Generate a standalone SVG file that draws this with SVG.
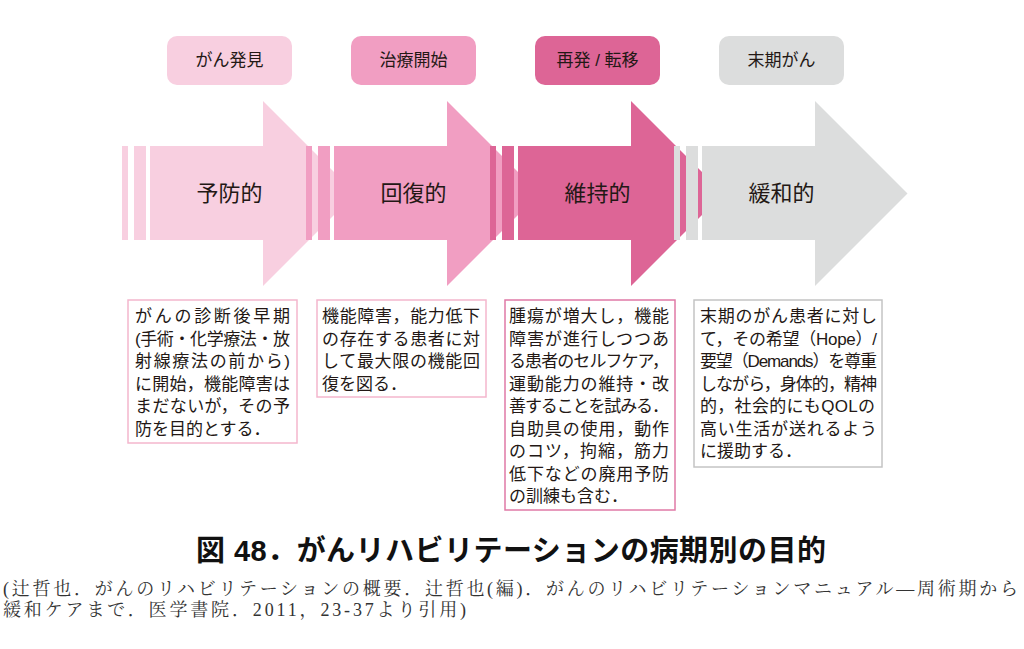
<svg xmlns="http://www.w3.org/2000/svg" width="1024" height="649" viewBox="0 0 1024 649">
<style>
.lbl{font-family:"Liberation Sans","Noto Sans CJK JP",sans-serif;font-size:17px;fill:#231815;text-anchor:middle}
.arw{font-family:"Liberation Sans","Noto Sans CJK JP",sans-serif;font-size:22px;fill:#231815;text-anchor:middle}
.desc{font-family:"Liberation Sans","Noto Sans CJK JP",sans-serif;font-size:17px;fill:#231815}
.box{fill:#ffffff;stroke-width:1.5}
.title{font-family:"Liberation Sans","Noto Sans CJK JP",sans-serif;font-size:29px;font-weight:bold;fill:#111111}
.cite{font-family:"Liberation Serif","Noto Serif CJK JP","Noto Sans CJK JP",serif;font-size:18px;fill:#333333}
.c1{fill:#f8cfe0}.c2{fill:#f19ec2}.c3{fill:#dd6596}.c4{fill:#dcdddd}
</style>
<defs>
<g id="arrowShape">
<rect x="122" y="146" width="6" height="94"/>
<rect x="134" y="146" width="12" height="94"/>
<polygon points="150,146 263,146 263,101 355.5,193.5 263,286 263,240 150,240"/>
</g>
</defs>

<g id="stage1">
<rect class="c1" x="167" y="36" width="125" height="49" rx="10"/>
<text class="lbl" x="229.5" y="66">がん発見</text>
<use href="#arrowShape" class="c1"/>
<text class="arw" x="229.5" y="201">予防的</text>
<rect class="box" x="128" y="300" width="169" height="143" stroke="#f4b6cd"/>
<text class="desc" x="135" y="322" textLength="155" lengthAdjust="spacing">がんの診断後早期</text>
<text class="desc" x="135" y="344.5" textLength="155" lengthAdjust="spacing">(手術・化学療法・放</text>
<text class="desc" x="135" y="367" textLength="155" lengthAdjust="spacing">射線療法の前から)</text>
<text class="desc" x="135" y="389.5" textLength="155" lengthAdjust="spacing">に開始，機能障害は</text>
<text class="desc" x="135" y="412" textLength="155" lengthAdjust="spacing">まだないが，その予</text>
<text class="desc" x="135" y="434.5">防を目的とする．</text>
</g>

<g id="stage2">
<rect class="c2" x="351" y="36" width="125" height="49" rx="10"/>
<text class="lbl" x="413.5" y="66">治療開始</text>
<use href="#arrowShape" class="c2" transform="translate(184,0)"/>
<text class="arw" x="413.5" y="201">回復的</text>
<rect class="box" x="317" y="300" width="169" height="97" stroke="#f4b6cd"/>
<text class="desc" x="322" y="322" textLength="158" lengthAdjust="spacing">機能障害，能力低下</text>
<text class="desc" x="322" y="344.5" textLength="158" lengthAdjust="spacing">の存在する患者に対</text>
<text class="desc" x="322" y="367" textLength="158" lengthAdjust="spacing">して最大限の機能回</text>
<text class="desc" x="322" y="389.5">復を図る．</text>
</g>

<g id="stage3">
<rect class="c3" x="535" y="36" width="125" height="49" rx="10"/>
<text class="lbl" x="597.5" y="66">再発 / 転移</text>
<use href="#arrowShape" class="c3" transform="translate(368,0)"/>
<text class="arw" x="597.5" y="201">維持的</text>
<rect class="box" x="505" y="300" width="170" height="210" stroke="#e07aa6"/>
<text class="desc" x="509" y="322" textLength="160" lengthAdjust="spacing">腫瘍が増大し，機能</text>
<text class="desc" x="509" y="344.5" textLength="160" lengthAdjust="spacing">障害が進行しつつあ</text>
<text class="desc" x="509" y="367" textLength="160" lengthAdjust="spacing">る患者のセルフケア，</text>
<text class="desc" x="509" y="389.5" textLength="160" lengthAdjust="spacing">運動能力の維持・改</text>
<text class="desc" x="509" y="412" textLength="160" lengthAdjust="spacing">善することを試みる．</text>
<text class="desc" x="509" y="434.5" textLength="160" lengthAdjust="spacing">自助具の使用，動作</text>
<text class="desc" x="509" y="457" textLength="160" lengthAdjust="spacing">のコツ，拘縮，筋力</text>
<text class="desc" x="509" y="479.5" textLength="160" lengthAdjust="spacing">低下などの廃用予防</text>
<text class="desc" x="509" y="502">の訓練も含む．</text>
</g>

<g id="stage4">
<rect class="c4" x="719" y="36" width="125" height="49" rx="10"/>
<text class="lbl" x="781.5" y="66">末期がん</text>
<use href="#arrowShape" class="c4" transform="translate(552,0)"/>
<text class="arw" x="781.5" y="201">緩和的</text>
<rect class="box" x="694" y="300" width="188" height="167" stroke="#c4c4c4"/>
<text class="desc" x="700" y="322" textLength="177" lengthAdjust="spacing">末期のがん患者に対し</text>
<text class="desc" x="700" y="344.5" textLength="177" lengthAdjust="spacing">て，その希望（Hope）/</text>
<text class="desc" x="700" y="367" textLength="177" lengthAdjust="spacing">要望（Demands）を尊重</text>
<text class="desc" x="700" y="389.5" textLength="177" lengthAdjust="spacing">しながら，身体的，精神</text>
<text class="desc" x="700" y="412" textLength="175" lengthAdjust="spacing">的，社会的にもQOLの</text>
<text class="desc" x="700" y="434.5" textLength="177" lengthAdjust="spacing">高い生活が送れるよう</text>
<text class="desc" x="700" y="457">に援助する．</text>
</g>

<g id="connectors"></g>

<g id="caption">
<text class="title" x="196" y="561" textLength="630" lengthAdjust="spacing">図 48．がんリハビリテーションの病期別の目的</text>
<text class="cite" x="3" y="595" textLength="1015" lengthAdjust="spacing">(辻哲也．がんのリハビリテーションの概要．辻哲也(編)．がんのリハビリテーションマニュアル―周術期から</text>
<text class="cite" x="3" y="616" textLength="463" lengthAdjust="spacing">緩和ケアまで．医学書院．2011，23-37より引用)</text>
</g>
</svg>
